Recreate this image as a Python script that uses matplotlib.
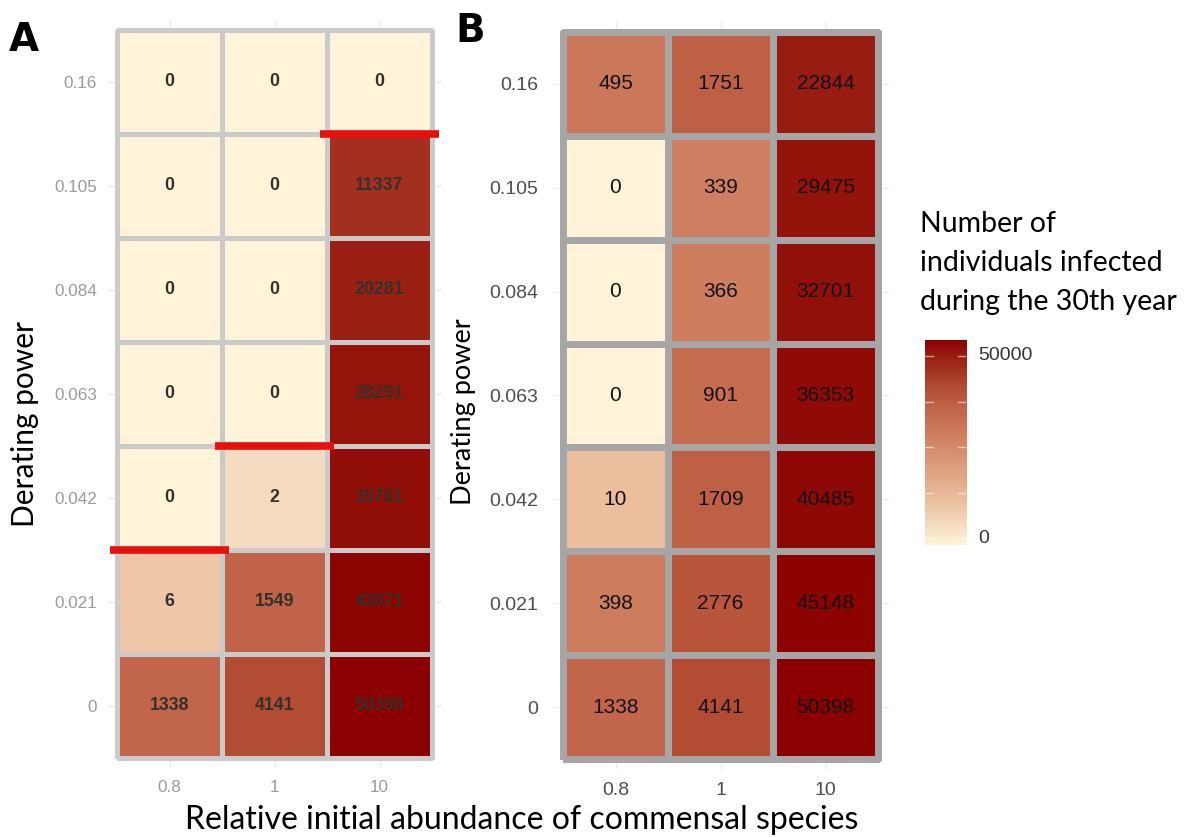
import numpy as np
import matplotlib
matplotlib.use("Agg")
import matplotlib.pyplot as plt
from matplotlib.colors import LinearSegmentedColormap, FuncNorm

# ---------------- data ----------------
abundance = ["0.8", "1", "10"]
derating = ["0.16", "0.105", "0.084", "0.063", "0.042", "0.021", "0"]  # top -> bottom

# rows top -> bottom, columns 0.8, 1, 10
values_A = [
    [0, 0, 0],
    [0, 0, 11337],
    [0, 0, 20281],
    [0, 0, 28291],
    [0, 2, 35761],
    [6, 1549, 43071],
    [1338, 4141, 50398],
]
values_B = [
    [495, 1751, 22844],
    [0, 339, 29475],
    [0, 366, 32701],
    [0, 901, 36353],
    [10, 1709, 40485],
    [398, 2776, 45148],
    [1338, 4141, 50398],
]
# red threshold markers in panel A: (column, derating row above, derating row below)
thresholds_A = [("0.8", "0.042", "0.021"), ("1", "0.063", "0.042"), ("10", "0.16", "0.105")]

legend_title = "Number of\nindividuals infected\nduring the 30th year"
cbar_labels = ["0", "", "", "", "50000"]

# ---------------- style ----------------
W, H = 1194, 838
fig = plt.figure(figsize=(W / 100, H / 100), dpi=100)

cmap = LinearSegmentedColormap.from_list(
    "heat",
    [(0.0, "#FFF4DA"), (0.10, "#F5DABF"), (0.22, "#EBBE9E"), (0.54, "#CF7E60"),
     (0.67, "#C1654A"), (0.77, "#B24C33"), (0.86, "#A3311F"), (0.93, "#971C11"),
     (1.0, "#8B0000")])
vmax = 50398
norm = FuncNorm((lambda x: np.log10(np.asarray(x) + 1.0),
                 lambda y: 10 ** np.asarray(y) - 1.0), vmin=0, vmax=vmax)

TITLE_FONT = ["Lato", "DejaVu Sans"]
NUM_FONT = ["Liberation Sans", "DejaVu Sans"]


def px_axes(x0, y0, x1, y1):
    return fig.add_axes([x0 / W, 1 - y1 / H, (x1 - x0) / W, (y1 - y0) / H])


def heatmap(ax, vals, edge, elw, tick_color, tick_size, ypad, xpad,
            ann_color, ann_size, ann_weight):
    arr = np.array(vals, dtype=float)[::-1]  # bottom row first
    nrow, ncol = arr.shape
    ax.set_xlim(-0.6, ncol - 0.4)
    ax.set_ylim(-0.6, nrow - 0.4)
    ax.set_xticks(range(ncol))
    ax.set_xticklabels(abundance)
    ax.set_yticks(range(nrow))
    ax.set_yticklabels(derating[::-1])
    ax.grid(True, color="#ebebeb", lw=1.0)
    ax.set_axisbelow(True)
    for s in ax.spines.values():
        s.set_visible(False)
    ax.tick_params(length=0, colors=tick_color, labelsize=tick_size)
    ax.tick_params(axis="y", pad=ypad)
    ax.tick_params(axis="x", pad=xpad)
    for lab in ax.get_xticklabels() + ax.get_yticklabels():
        lab.set_family(NUM_FONT)
    ax.pcolormesh(np.arange(ncol + 1) - 0.5, np.arange(nrow + 1) - 0.5, arr,
                  cmap=cmap, norm=norm, edgecolors=edge, linewidth=elw, zorder=2)
    for i in range(nrow):
        for j in range(ncol):
            ax.text(j, i, f"{int(arr[i, j])}", ha="center", va="center",
                    color=ann_color, fontsize=ann_size, fontweight=ann_weight,
                    family=NUM_FONT, zorder=3)


# Panel A
axA = px_axes(106.5, 19.6, 442.5, 768.4)
heatmap(axA, values_A, "#cacaca", 2.2, "#9a9a9a", 12.3, 7, 8,
        "#35302a", 12.8, "bold")
for col, upper, lower in thresholds_A:
    xc = abundance.index(col)
    yb = (len(derating) - 1 - derating.index(upper) + len(derating) - 1 - derating.index(lower)) / 2
    axA.plot([xc - 0.57, xc + 0.57], [yb, yb], color="#e8100c", lw=5.5,
             solid_capstyle="butt", zorder=4, clip_on=False)

# Panel B
axB = px_axes(552.5, 21.6, 888.5, 769.4)
heatmap(axB, values_B, "#a6a6a6", 3.8, "#4d4d4d", 14, 10, 9,
        "#111111", 15, "normal")

# y axis titles
fig.text(25 / W, 1 - 424 / H, "Derating power", rotation=90, ha="center", va="center",
         family=TITLE_FONT, fontsize=21.5, color="black")
fig.text(463 / W, 1 - 412 / H, "Derating power", rotation=90, ha="center", va="center",
         family=TITLE_FONT, fontsize=19.5, color="black")

# panel letters
fig.text(9 / W, 1 - 51 / H, "A", fontsize=28, fontweight="bold", family=["DejaVu Sans"])
fig.text(455 / W, 1 - 42 / H, "B", fontsize=28, fontweight="bold", family=["DejaVu Sans"])

# shared x label
fig.text(522 / W, 1 - 820 / H, "Relative initial abundance of commensal species",
         ha="center", va="center", family=TITLE_FONT, fontsize=23)

# legend title
fig.text(920 / W, 1 - 211 / H, legend_title, ha="left", va="top",
         family=TITLE_FONT, fontsize=20.5, linespacing=1.62)

# colorbar
cax = px_axes(925, 340, 966, 545)
grad = np.linspace(1, 0, 256)[:, None]
cax.imshow(grad, aspect="auto", cmap=cmap, extent=[0, 1, 0, 1], vmin=0, vmax=1)
cax.set_xlim(0, 1)
cax.set_ylim(0, 1)
cax.axis("off")
tick_pos = [0.034 + 0.222 * k for k in range(5)]
for t, lab in zip(tick_pos, cbar_labels):
    cax.plot([0, 0.2], [t, t], color="white", alpha=0.55, lw=1)
    cax.plot([0.8, 1], [t, t], color="white", alpha=0.55, lw=1)
    if lab:
        cax.text(1.3, t, lab, ha="left", va="center", fontsize=14,
                 color="#333333", family=NUM_FONT)

fig.savefig("out.png", dpi=100)
